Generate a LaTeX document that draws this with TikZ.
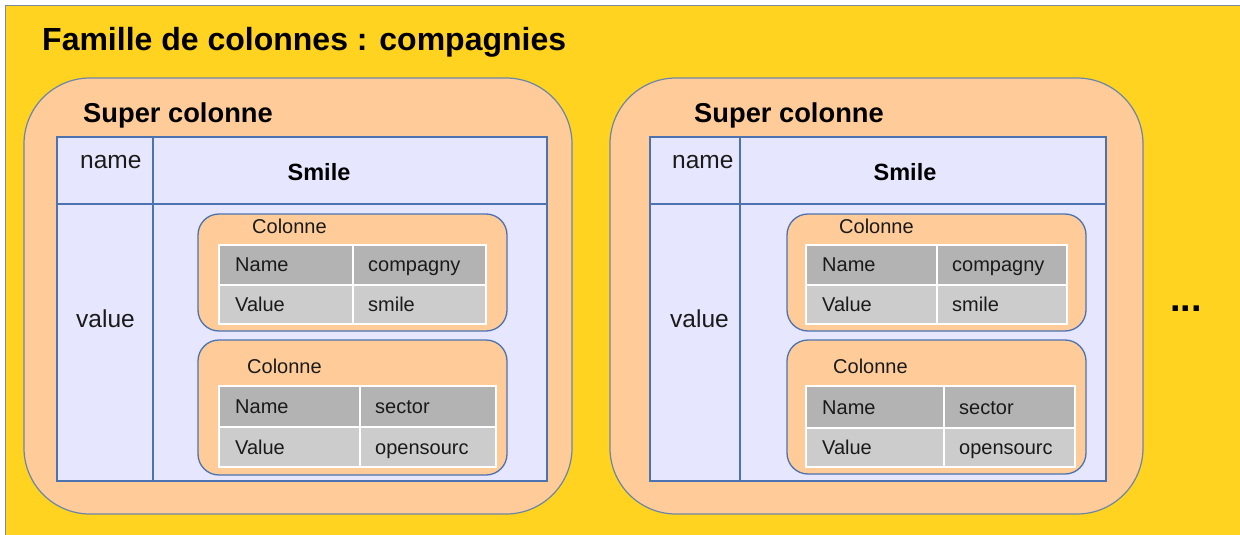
\documentclass[tikz,border=0pt]{standalone}
\usepackage{fontspec}
\setmainfont{Liberation Sans}
\definecolor{bgyellow}{HTML}{FFD320}
\definecolor{peach}{HTML}{FFCC99}
\definecolor{lav}{HTML}{E6E6FF}
\definecolor{tline}{HTML}{4C73B0}
\definecolor{sline}{HTML}{6C86A6}
\definecolor{oline}{HTML}{7D8B99}
\definecolor{gdark}{HTML}{B3B3B3}
\definecolor{glight}{HTML}{CCCCCC}
\definecolor{txt}{HTML}{1A1A1A}
\tikzset{
  lbl/.style={inner sep=0pt, anchor=base west, text=txt},
  titletxt/.style={lbl, font=\fontsize{32}{36}\selectfont\bfseries, text=black},
  supertxt/.style={lbl, font=\fontsize{27.3}{32}\selectfont\bfseries, text=black},
  rowtxt/.style={lbl, font=\fontsize{24.5}{29}\selectfont},
  smiletxt/.style={lbl, anchor=base, font=\fontsize{23.5}{28}\selectfont\bfseries, text=black},
  celltxt/.style={lbl, font=\fontsize{20}{23}\selectfont},
  superbox/.style={fill=peach, draw=sline, line width=1.2pt, rounded corners=66pt},
  colbox/.style={fill=peach, draw=tline, line width=1.3pt, rounded corners=21pt},
  bigtable/.style={fill=lav, draw=tline, line width=1.5pt},
  tablediv/.style={draw=tline, line width=1.5pt},
}
% cell table: #1 x0, #2 xsplit, #3 x1, #4 y0, #5 ysplit, #6 y1, #7 name text, #8 value text, #9 prefix
\newcommand{\cellgrid}[9]{%
  \fill[gdark] (#1,#4) rectangle (#3,#5);
  \fill[glight] (#1,#5) rectangle (#3,#6);
  \draw[white, line width=2pt] (#1,#4) rectangle (#3,#6);
  \draw[white, line width=2pt] (#1,#5) -- (#3,#5);
  \draw[white, line width=2pt] (#2,#4) -- (#2,#6);
  \node[celltxt] (#9n1) at (#1+16,#5-14) {Name};
  \node[celltxt] (#9n2) at (#2+15,#5-14) {#7};
  \node[celltxt] (#9v1) at (#1+16,#6-13) {Value};
  \node[celltxt] (#9v2) at (#2+15,#6-13) {#8};
}
\begin{document}
\begin{tikzpicture}[x=1pt,y=-1pt]
\useasboundingbox (0,0) rectangle (1240,535);
\fill[white] (0,0) rectangle (1240,535);
\draw[fill=bgyellow, draw=oline, line width=1pt] (5,6) rectangle (1250,545);
\node[titletxt] (title) at (42,51) {Famille de colonnes : compagnies};

% ---------- Super colonne 1 ----------
\draw[superbox] (24,78) rectangle (572,514);
\node[supertxt] (sc1) at (83,122) {Super colonne};
\draw[bigtable] (57,137) rectangle (547,481);
\draw[tablediv] (153,137) -- (153,481);
\draw[tablediv] (57,204) -- (547,204);
\node[rowtxt] (name1) at (80,168) {name};
\node[smiletxt] (smile1) at (319,180) {Smile};
\node[rowtxt] (value1) at (76,327) {value};

\draw[colbox] (198,214) rectangle (507,331);
\node[celltxt] (col11) at (252,233) {Colonne};
\cellgrid{219}{353}{486}{245}{285}{324}{compagny}{smile}{a}

\draw[colbox] (198,340) rectangle (507,475);
\node[celltxt] (col12) at (247,373) {Colonne};
\cellgrid{219}{360}{496}{386}{427}{467}{sector}{opensourc}{b}

% ---------- Super colonne 2 ----------
\draw[superbox] (610,78) rectangle (1143,514);
\node[supertxt] (sc2) at (694,122) {Super colonne};
\draw[bigtable] (650,137) rectangle (1106,481);
\draw[tablediv] (740,137) -- (740,481);
\draw[tablediv] (650,204) -- (1106,204);
\node[rowtxt] (name2) at (672,168) {name};
\node[smiletxt] (smile2) at (905,180) {Smile};
\node[rowtxt] (value2) at (670,327) {value};

\draw[colbox] (787,214) rectangle (1086,331);
\node[celltxt] (col21) at (839,233) {Colonne};
\cellgrid{806}{937}{1067}{245}{285}{324}{compagny}{smile}{c}

\draw[colbox] (787,340) rectangle (1086,474);
\node[celltxt] (col22) at (833,373) {Colonne};
\cellgrid{806}{944}{1075}{386}{428}{467}{sector}{opensourc}{d}

\node[lbl, font=\fontsize{38}{40}\selectfont\bfseries, text=black] (dots) at (1170,311) {...};
\end{tikzpicture}
\end{document}
